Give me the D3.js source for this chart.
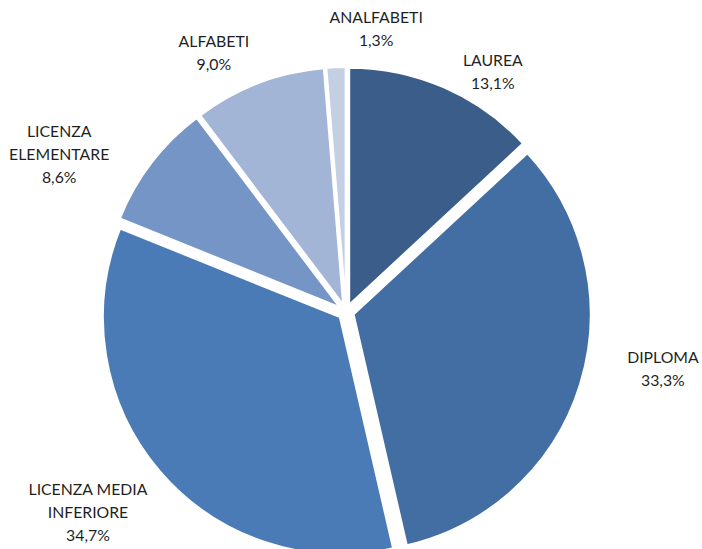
<!DOCTYPE html>
<html>
<head>
<meta charset="utf-8">
<script src="https://cdn.jsdelivr.net/npm/d3@7"></script>
<style>
  html, body { margin: 0; padding: 0; background: #fff; }
  svg { display: block; }
  text { font-family: Lato, "Open Sans", sans-serif; font-size: 15.8px; fill: #1f1f1f; }
</style>
</head>
<body>
<svg id="chart" width="702" height="549"></svg>
<script>
const categories = ["LAUREA", "DIPLOMA", "LICENZA MEDIA INFERIORE", "LICENZA ELEMENTARE", "ALFABETI", "ANALFABETI"];
const labelLines = [["LAUREA"], ["DIPLOMA"], ["LICENZA MEDIA", "INFERIORE"], ["LICENZA", "ELEMENTARE"], ["ALFABETI"], ["ANALFABETI"]];
const values = [13.1, 33.3, 34.7, 8.6, 9.0, 1.3];
const colors = ["#3a5d8a", "#426ea3", "#4a7bb6", "#7495c5", "#a3b5d6", "#c4cfe4"];

// layout (label placement: angle in degrees clockwise from top, distance from pie centre)
const labelAngle = [31.5, 100.2, 232.1, 298.7, 332.9, 6.1];
const labelDist = [281, 322, 327, 327, 290, 284];

const W = 702, H = 549;
const cx = 346, cy = 312, R = 237, explode = 8;

const svg = d3.select("#chart");
const g = svg.append("g").attr("transform", `translate(${cx},${cy})`);

const pie = d3.pie().sort(null).value(d => d.v);
const arcs = pie(values.map((v, i) => ({ v, i })));
const arc = d3.arc().innerRadius(0).outerRadius(R);

g.selectAll("path.slice")
  .data(arcs)
  .join("path")
  .attr("class", "slice")
  .attr("d", arc)
  .attr("fill", d => colors[d.data.i])
  .attr("stroke", "#fff")
  .attr("stroke-width", 2)
  .attr("stroke-linejoin", "round")
  .attr("transform", d => {
    const a = (d.startAngle + d.endAngle) / 2;
    return `translate(${explode * Math.sin(a)},${-explode * Math.cos(a)})`;
  });

const fmt = v => v.toFixed(1).replace(".", ",") + "%";
const lineH = 23;

g.selectAll("text.lbl")
  .data(arcs)
  .join("text")
  .attr("class", "lbl")
  .attr("text-anchor", "middle")
  .each(function(d) {
    const i = d.data.i;
    const a = labelAngle[i] * Math.PI / 180;
    const x = labelDist[i] * Math.sin(a);
    const y = -labelDist[i] * Math.cos(a);
    const lines = labelLines[i].concat([fmt(values[i])]);
    const y0 = y - (lines.length - 1) * lineH / 2 + 5;
    const t = d3.select(this);
    lines.forEach((ln, k) => {
      t.append("tspan").attr("x", x).attr("y", y0 + k * lineH).text(ln);
    });
  });
</script>
</body>
</html>
